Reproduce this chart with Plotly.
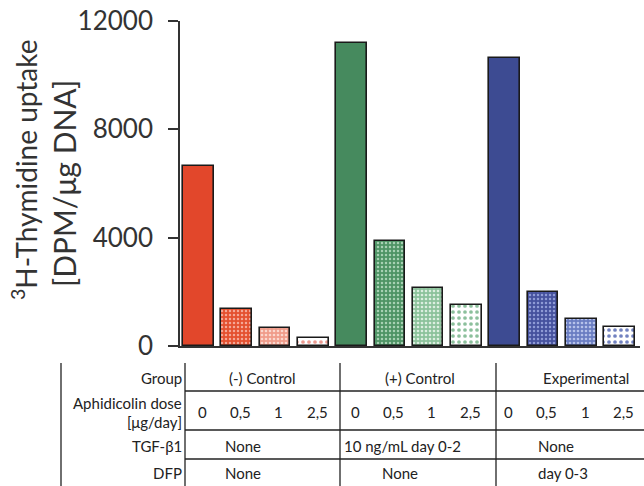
import plotly.graph_objects as go

# ---- data ----
groups = ["(-) Control", "(+) Control", "Experimental"]
doses = ["0", "0,5", "1", "2,5"]
neg_control = [6650, 1370, 650, 290]
pos_control = [11200, 3860, 2140, 1510]
experimental = [10630, 2000, 985, 690]
tgf_b1 = ["None", "10 ng/mL day 0-2", "None"]
dfp = ["None", "None", "day 0-3"]
y_ticks = [0, 4000, 8000, 12000]

# ---- styles ----
FONT = "Lato"
W, H = 644, 486
ML, MR, MT, MB = 180, 4, 21, 140
PW, PH = W - ML - MR, H - MT - MB

def px(x):
    return (x - ML) / PW

def py(y):
    return (H - MB - y) / PH

styles = [
    dict(bg=["#E2472B", "#E4502F", "#F09C8A", "#FFFFFF"],
         fg=["#E2472B", "#F6A896", "#FBD8CF", "#EC9A90"]),
    dict(bg=["#468A5E", "#4E9465", "#8CC29B", "#FFFFFF"],
         fg=["#468A5E", "#A8D2B4", "#DCEEE0", "#8CC09C"]),
    dict(bg=["#3D4B92", "#45519E", "#6A7DC2", "#FFFFFF"],
         fg=["#3D4B92", "#8E9AD6", "#B6C2EA", "#7282C0"]),
]
pat_size = [4, 4, 4, 6]
pat_solid = [0.3, 0.3, 0.35, 0.3]
series = [neg_control, pos_control, experimental]

fig = go.Figure()
for gi, (vals, st) in enumerate(zip(series, styles)):
    for di, v in enumerate(vals):
        pattern = None
        if di > 0:
            pattern = dict(shape=".", bgcolor=st["bg"][di], fgcolor=st["fg"][di],
                           size=pat_size[di], solidity=pat_solid[di], fillmode="replace")
        fig.add_trace(go.Bar(
            x=[gi * len(doses) + di], y=[v], width=0.8,
            name=f"{groups[gi]} {doses[di]}", showlegend=False,
            marker=dict(color=st["bg"][di], line=dict(color="#1a1a1a", width=1.6),
                        pattern=pattern),
        ))

fig.update_layout(
    width=W, height=H,
    margin=dict(l=ML, r=MR, t=MT, b=MB),
    paper_bgcolor="white", plot_bgcolor="white",
    font=dict(family=FONT, color="#222"),
    bargap=0, barmode="overlay",
)
fig.update_xaxes(range=[-0.483, 11.536], showticklabels=False, ticks="",
                 showline=True, linecolor="#333", linewidth=1.6, showgrid=False, zeroline=False)
fig.update_yaxes(range=[0, 12000], tickvals=y_ticks, ticktext=[str(v) for v in y_ticks],
                 ticks="outside", ticklen=10, tickwidth=1.6, tickcolor="#333",
                 showline=True, linecolor="#333", linewidth=1.6, showgrid=False, zeroline=False,
                 tickfont=dict(family=FONT, size=26, color="#333"), ticklabelstandoff=10)

# ---- y axis title (two lines) ----
fig.add_annotation(text="<sup>3</sup>H-Thymidine uptake", textangle=-90, x=px(24), y=py(170),
                   xref="paper", yref="paper", showarrow=False,
                   font=dict(family=FONT, size=28, color="#333"), xanchor="center", yanchor="middle")
fig.add_annotation(text="[DPM/μg DNA]", textangle=-90, x=px(64), y=py(184),
                   xref="paper", yref="paper", showarrow=False,
                   font=dict(family=FONT, size=30, color="#333"), xanchor="center", yanchor="middle")

# ---- table ----
LC = "#222"
for xv in [61, 185, 340, 496]:
    fig.add_shape(type="line", xref="paper", yref="paper", x0=px(xv), x1=px(xv),
                  y0=py(363), y1=py(H), line=dict(color=LC, width=1.3))
for yv in [391, 430, 459]:
    fig.add_shape(type="line", xref="paper", yref="paper", x0=px(185), x1=px(W),
                  y0=py(yv), y1=py(yv), line=dict(color=LC, width=1.3))

TF = dict(family=FONT, size=15, color="#222")
def txt(s, x, y, anchor="center"):
    fig.add_annotation(text=s, x=px(x), y=py(y), xref="paper", yref="paper", showarrow=False,
                       font=TF, xanchor=anchor, yanchor="middle")

# row labels
txt("Group", 184, 378, "right")
txt("Aphidicolin dose", 184, 403, "right")
txt("[μg/day]", 184, 422, "right")
txt("TGF-β1", 184, 446, "right")
txt("DFP", 184, 473, "right")

group_x = [262, 420, 586]
for g, gx in zip(groups, group_x):
    txt(g, gx, 378)

# dose labels under each bar
for gi in range(len(groups)):
    for di, d in enumerate(doses):
        fig.add_annotation(text=d, x=gi * len(doses) + di + 0.1, y=py(412), xref="x", yref="paper",
                           showarrow=False, font=TF, xanchor="center", yanchor="middle")

tgf_x = [(243, "center"), (342, "left"), (536, "left")]
for t, (tx, an) in zip(tgf_b1, tgf_x):
    txt(t, tx, 446, an)
dfp_x = [(243, "center"), (400, "center"), (536, "left")]
for t, (tx, an) in zip(dfp, dfp_x):
    txt(t, tx, 473, an)

fig.write_html("out.html", config={"displayModeBar": False},
               post_script="document.body.style.margin='0';")
